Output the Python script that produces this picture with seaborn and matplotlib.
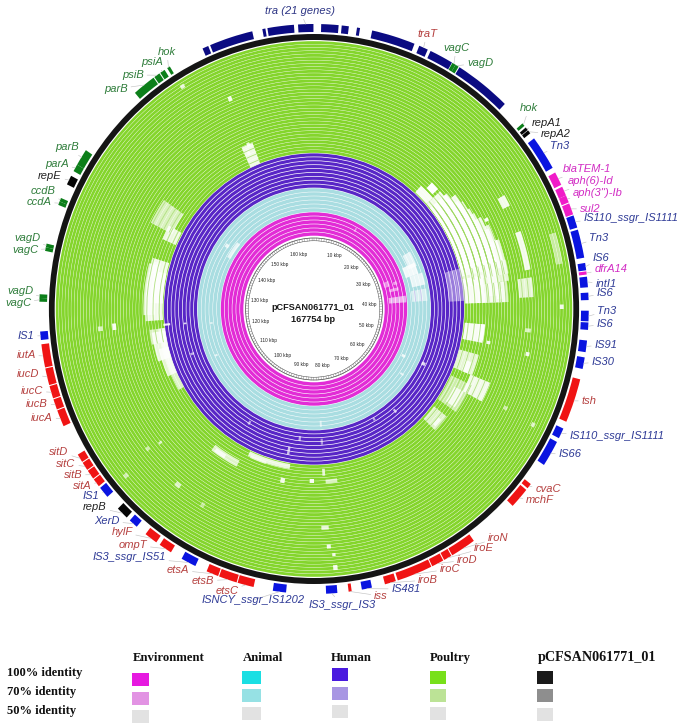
import numpy as np
import pandas as pd
import seaborn as sns
import matplotlib
matplotlib.use("Agg")
import matplotlib.pyplot as plt
from matplotlib.patches import Rectangle

sns.set_theme(style="white")

GENOME_KB = 167.754
plot_title = "pCFSAN061771_01"
plot_size = "167754 bp"

# ---------- annotated features (positions in kb) ----------
f_names = ["tra1","tra2","tra3","tra4","tra (21 genes)","tra6","tra7","tra8","tra9","traT","tra10","vagC","vagD","tra11",
           "hok","repA1","repA2","Tn3","blaTEM-1","aph(6)-Id","aph(3'')-Ib","sul2","IS110_ssgr_IS1111","Tn3","IS6","dfrA14",
           "intI1","IS6","Tn3","IS6","IS91","IS30","tsh","IS110_ssgr_IS1111","IS66","cvaC","mchF","iroN","iroE","iroD","iroC","iroB",
           "IS481","iss","IS3_ssgr_IS3","ISNCY_ssgr_IS1202","etsC","etsB","etsA","IS3_ssgr_IS51","ompT","hylF","XerD","repB","IS1",
           "sitA","sitB","sitC","sitD","iucA","iucB","iucC","iucD","iutA","IS1","vagC","vagD","vagC","vagD","ccdA","ccdB","repE",
           "parA","parB","parB","psiB","psiA","hok"]
f_start = [156.6,157.4,162.7,163.2,166.2,0.7,2.7,4.2,5.7,10.5,11.7,14.1,14.45,14.9,
           23.0,23.5,23.85,24.8,28.6,30.1,31.0,31.8,33.0,34.4,37.6,38.4,
           38.9,40.4,42.1,43.2,44.9,46.5,48.6,53.5,54.9,59.6,60.3,67.3,69.9,70.8,72.1,75.8,
           78.2,80.2,81.6,86.6,89.8,91.5,93.4,95.8,98.5,100.2,102.6,103.9,106.6,
           107.9,108.8,109.8,110.7,114.5,116.2,117.3,118.6,120.3,122.9,126.5,126.85,131.3,131.65,135.8,136.15,137.9,
           139.3,140.0,148.8,151.2,151.9,152.7]
f_end = [157.2,161.7,163.0,165.8,167.7,2.4,3.4,4.5,10.0,11.4,14.05,14.45,14.8,20.5,
         23.3,23.8,24.2,28.1,29.9,31.0,31.7,32.9,34.2,37.1,38.3,38.7,
         39.9,41.1,43.1,43.9,46.0,47.6,52.8,54.5,57.4,60.1,62.3,69.8,70.7,72.0,75.6,76.9,
         79.2,80.5,82.7,87.9,91.4,93.3,94.6,97.3,99.8,101.5,103.5,105.1,107.7,
         108.7,109.7,110.6,111.5,116.1,117.2,118.5,120.2,122.5,123.7,126.85,127.2,131.65,132.0,136.15,136.5,138.8,
         140.0,141.6,151.1,151.8,152.4,153.0]
f_kind = ["tra"]*11 + ["stab","stab"] + ["tra"] + ["stab","rep","rep","mob","arg","arg","arg","arg","mob","mob","mob","arg",
          "mob","mob","mob","mob","mob","mob","vir","mob","mob","vir","vir","vir","vir","vir","vir","vir",
          "mob","vir","mob","mob","vir","vir","vir","mob","vir","vir","mob","rep","mob",
          "vir","vir","vir","vir","vir","vir","vir","vir","vir","mob","stab","stab","stab","stab","stab","stab","rep",
          "stab","stab","stab","stab","stab","stab"]
# label centres, in reference pixels (None: unlabelled piece)
label_x = [None,None,None,None,300,None,None,None,None,427,None,456,480,None,
           529,547,556,560,587,591,598,590,631,599,601,611,
           606,605,607,605,606,603,589,617,570,548,540,498,484,467,450,428,
           406,381,342,253,227,203,178,129,133,122,107,95,91,
           82,73,66,59,42,37,32,28,26,26,18,20,25,27,39,43,50,
           57,67,116,133,152,167]
label_y = [None,None,None,None,11,None,None,None,None,34,None,48,63,None,
           108,123,134,146,169,181,193,209,218,238,258,269,
           284,293,311,324,345,362,401,436,454,489,500,538,548,560,569,580,
           589,596,605,600,591,581,570,557,545,532,521,507,496,
           486,475,464,452,418,404,391,374,355,336,303,291,250,238,202,191,176,
           164,147,89,75,62,52]

kind_bar = {"tra":"#0b0b82","mob":"#0a14e0","vir":"#f01414","stab":"#0c7f1a","rep":"#050505","arg":"#f01cc8"}
kind_txt = {"tra":"#2c3484","mob":"#2e3a96","vir":"#b5403f","stab":"#2f7d3b","rep":"#222222","arg":"#d22cc4"}
name_override_red = ["traT"]
features = pd.DataFrame({"name":f_names,"start":f_start,"end":f_end,"kind":f_kind,"lx":label_x,"ly":label_y})

# ---------- BLAST rings ----------
ring_names = ["Environment","Animal","Human","Poultry"]
ring_colors = ["#e22cd6","#a9dde1","#5826c6","#84d52c"]
ring_tracks = [6,6,9,35]
ring_inner = [73,97,121,156]
ring_outer = [97,121,156,268]
ring_sep = [0.6,0.5,0.7,0.35]
ref_ring = (269,275)

# low-identity regions: start deg, end deg, inner, outer, opacity
gap_a = [44,42,48,50,52,55,58,62,66,70,73,50,54,60,65,70,76,79,82,82,84,82,60,70,73,63,95,95,105,108,112,115,118,128,130,
         95,101,100,116,116.5,89,
         266,268,272,277,282,240,246,252,258,297,294,335,336,337,
         264.3,264.2,263.8,263.5,207,212,189,198,190,180,176,172,176,175.8,174.8,174.6,229,218,230.5,229.7,210,337,328,
         75,60,66,72,80,115,116,300,304,
         70,76,82,72,28,
         186,190,176,176,210,250,245,262,140,125,150]
gap_b = [47,48,56,60,64,68,74,76,78,82,86,58,62,66,72,78,80,88,88,88,87,87,63,80,80,64,101,100,112,112,118,125,124,134,133,
         96,102,101,117,117.5,90,
         287,285,283,280,286,263,256,262,263,305,299,339,337,338,
         265.5,266,264.6,264.2,217,216,205,204,191.5,181.5,177,176,178,176.8,175.6,175.6,230,219.5,231.5,230.4,211,338,329,
         87,68,72,78,86,116.5,117.5,310,306,
         74,78,86,74,29,
         187,191,177,177,211,251,246,263,141,126,151]
gap_r0 = [168,157,157,157,157,157,157,157,157,157,182,172,178,185,195,198,165,157,178,170,190,213,220,222,255,198,157,172,156,165,175,157,165,158,168,
          220,224,182,220,253,255,
          157,165,157,160,165,156,156,156,156,165,157,156,168,176,
          220,206,150,133,170,172,157,160,172,170,160,171,217,236,245,257,254,223,220,206,225,225,259,
          140,106,100,104,102,124,102,100,108,
          76,80,78,86,88,
          128,140,112,130,130,132,110,106,130,110,125]
gap_r1 = [176,166,176,180,186,188,190,196,198,204,192,178,184,192,200,202,205,178,200,202,196,228,228,228,262,202,178,178,177,172,197,180,176,175,172,
          226,228,186,224,257,259,
          175,177,170,168,172,162,166,170,172,190,172,178,174,180,
          225,210,157,136,177,176,162,163,177,174,167,175,221,240,248,262,259,228,224,210,230,230,263,
          156,115,114,118,118,128,106,104,112,
          82,90,96,90,92,
          133,148,118,136,134,136,113,109,134,114,128]
gap_alpha = [1,.95,.9,.9,.9,.85,.85,.85,.8,.8,.75,.95,.85,.75,.8,.9,.55,.95,.8,.6,.95,.8,.9,.9,.55,.95,.95,.95,.8,.85,.9,.6,.8,.75,.8,
             .7,.9,.9,.6,.7,.9,
             .9,.75,.9,.8,.6,.75,.8,.85,.7,.7,.85,.9,.8,.8,
             .7,.95,.9,.8,.75,.8,.85,.6,.9,.95,.8,.7,.8,.9,.9,.9,.6,.7,.6,.7,.5,.9,.8,
             .4,.7,.85,.75,.55,.8,.8,.7,.75,
             .45,.5,.6,.5,.5,
             .6,.7,.6,.5,.6,.6,.7,.6,.7,.7,.6]

tick_labels_kb = [10,20,30,40,50,60,70,80,90,100,110,120,130,140,150,160]

# ---------- legend ----------
legend_rows = ["100% identity","70% identity","50% identity"]
legend_cols = ["Environment","Animal","Human","Poultry","pCFSAN061771_01"]
legend_colors = [["#e619e0","#e293e3","#e2e2e2"],
                 ["#1adfe3","#96e1e4","#e2e2e2"],
                 ["#4a1adf","#a896e3","#e2e2e2"],
                 ["#78e01a","#bce396","#e2e2e2"],
                 ["#1a1a1a","#8e8e8e","#e2e2e2"]]

# ---------- layout ----------
W, H = 685, 727
CX, CY = 314, 309
RMAX = 300
X_SQUEEZE = 0.964
fig = plt.figure(figsize=(W/100, H/100), dpi=100, facecolor="white")
rx = RMAX*X_SQUEEZE
ax = fig.add_axes([(CX-rx)/W, (H-CY-RMAX)/H, 2*rx/W, 2*RMAX/H], projection="polar")
ax.set_theta_zero_location("N")
ax.set_theta_direction(-1)
ax.set_ylim(0, RMAX)
ax.set_aspect("auto")
ax.axis("off")

over = fig.add_axes([0, 0, 1, 1], facecolor="none")
over.set_xlim(0, W)
over.set_ylim(H, 0)
over.axis("off")

TWO_PI = 2*np.pi
kb2rad = lambda kb: np.asarray(kb)/GENOME_KB*TWO_PI

# rings with white separators between tracks
for col, n, r0, r1, sep in zip(ring_colors, ring_tracks, ring_inner, ring_outer, ring_sep):
    edges = np.linspace(r0, r1, n+1)
    ax.bar(np.pi, edges[1:]-edges[:-1]-sep, width=TWO_PI, bottom=edges[:-1]+sep/2, color=col, linewidth=0, zorder=2)

# low-identity gaps
gaps = pd.DataFrame({"a":gap_a,"b":gap_b,"r0":gap_r0,"r1":gap_r1,"alpha":gap_alpha})
for g in gaps.itertuples():
    ax.bar(np.deg2rad((g.a+g.b)/2), g.r1-g.r0, width=np.deg2rad(g.b-g.a), bottom=g.r0,
           color="white", alpha=g.alpha, linewidth=0, zorder=3)
    # thin track lines of colour left through the larger pale blocks
    if g.r1-g.r0 > 14:
        for rr in np.arange(g.r0+3.2, g.r1, 6.4):
            ax.bar(np.deg2rad((g.a+g.b)/2), 0.9, width=np.deg2rad(g.b-g.a), bottom=rr,
                   color="#9bd85c" if g.r0 >= 156 else "#c9b8ee", alpha=0.75, linewidth=0, zorder=3.1)

# reference ring
ax.bar(np.pi, ref_ring[1]-ref_ring[0], width=TWO_PI, bottom=ref_ring[0], color="#151515", linewidth=0, zorder=4)

# inner scale ring
ax.bar(np.pi, 0.8, width=TWO_PI, bottom=70.6, color="#555555", linewidth=0, zorder=4)
ax.bar(np.pi, 0.5, width=TWO_PI, bottom=68.0, color="#444444", linewidth=0, zorder=4)
scale_kb = np.arange(0, GENOME_KB, 1.0)
ax.vlines(kb2rad(scale_kb), 68.0, 71.2, color="#777777", linewidth=0.3, zorder=4)
for kb in tick_labels_kb:
    ax.text(kb2rad(kb), 57, f"{kb} kbp", fontsize=3.4, ha="center", va="center", color="#222222", zorder=5,
            family="Liberation Sans")

over.text(CX-1, 307, plot_title, fontsize=6.6, fontweight="bold", ha="center", va="center", color="#1a1a1a", family="Liberation Sans")
over.text(CX-1, 320, plot_size, fontsize=6.6, fontweight="bold", ha="center", va="center", color="#1a1a1a", family="Liberation Sans")

# features and their labels
FEAT_R0, FEAT_R1 = 277, 285
for f in features.itertuples():
    a, b = kb2rad(f.start), kb2rad(f.end)
    ax.bar((a+b)/2, FEAT_R1-FEAT_R0, width=b-a, bottom=FEAT_R0, color=kind_bar[f.kind], linewidth=0, zorder=5)
    if pd.notna(f.lx):
        col = kind_txt["vir"] if f.name in name_override_red else kind_txt[f.kind]
        ax.annotate(f.name, xy=((a+b)/2, FEAT_R1), xytext=(f.lx, f.ly), textcoords=over.transData,
                    fontsize=8, fontstyle="italic", family="Liberation Sans", color=col,
                    ha="center", va="center", annotation_clip=False, zorder=6,
                    arrowprops=dict(arrowstyle="-", color="#c4c4c4", lw=0.45, shrinkA=0, shrinkB=0))

# legend
col_x = [132, 242, 332, 430, 537]
col_w = [17, 19, 16, 16, 16]
head_x = [169, 263, 351, 450, 597]
row_y = [[673,692,710],[671,689,707],[668,687,705],[671,689,707],[671,689,708]]
swatch_h = 13
for j, name in enumerate(legend_cols):
    over.text(head_x[j], 658, name, fontsize=10.2 if j == 4 else 9.2, fontweight="bold", family="Liberation Serif",
              ha="center", va="center", color="#111111")
    for i in range(3):
        over.add_patch(Rectangle((col_x[j], row_y[j][i]), col_w[j], swatch_h, color=legend_colors[j][i], linewidth=0))
for y, name in zip([673, 692, 711], legend_rows):
    over.text(7, y, name, fontsize=9, fontweight="bold", family="Liberation Serif", ha="left", va="center", color="#111111")

fig.savefig("out.png", dpi=100)
